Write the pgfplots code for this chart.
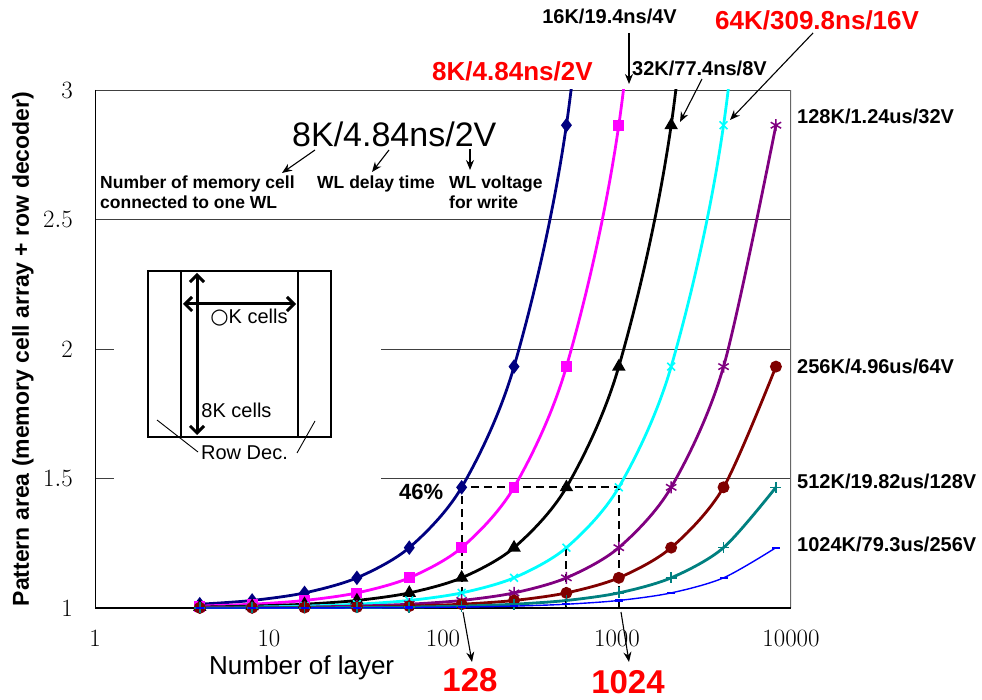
\documentclass[border=0pt]{standalone}
\usepackage[no-math]{fontspec}
\setmainfont{Liberation Sans}
\newfontfamily\djv{DejaVu Sans}
\usepackage{pgfplots}
\pgfplotsset{compat=1.18}
\usetikzlibrary{arrows.meta}
\newcommand\fs[1]{\fontsize{#1}{#1}\selectfont}
\definecolor{cnavy}{RGB}{0,0,128}
\definecolor{cmag}{RGB}{255,0,255}
\definecolor{ccyan}{RGB}{0,255,255}
\definecolor{cpurp}{RGB}{128,0,128}
\definecolor{cdred}{RGB}{128,0,0}
\definecolor{cteal}{RGB}{0,128,128}
\definecolor{cblue}{RGB}{0,0,255}
\begin{document}
\begin{tikzpicture}[x=1pt,y=1pt]
\begin{axis}[
  at={(95pt,91pt)}, anchor=south west, scale only axis,
  width=696pt, height=518pt,
  xmode=log, log basis x=10, xmin=1, xmax=10000, ymin=1, ymax=3,
  xtick={1,10,100,1000,10000}, xticklabels={$1$,$10$,$100$,$1000$,$10000$},
  ytick={1,1.5,2,2.5,3}, yticklabels={$1$,$1.5$,$2$,$2.5$,$3$},
  minor xtick={},
  ymajorgrids, grid style={black!75, line width=0.9pt},
  axis line style={draw=none}, major tick length=0pt, minor tick length=0pt,
  xticklabel style={font=\fs{23}, anchor=center, yshift=-30pt},
  yticklabel style={font=\fs{23}, anchor=east, inner sep=0pt, xshift=-22pt},
  clip=true,
  every axis plot/.append style={smooth, line width=2.8pt},
]
\draw[black!60, line width=1.5pt] (axis cs:10000,1) -- (axis cs:10000,3);
\draw[black, line width=1.5pt] (axis cs:1,3) -- (axis cs:1,1) -- (axis cs:10000,1);

\addplot[cnavy, mark=diamond*, mark size=5pt] coordinates {(4,1.0146)(8,1.0291)(16,1.0583)(32,1.1165)(64,1.233)(128,1.466)(256,1.932)(512,2.864)(1024,4.728)};
\addplot[cmag, mark=square*, mark size=4pt] coordinates {(4,1.0073)(8,1.0146)(16,1.0291)(32,1.0583)(64,1.1165)(128,1.233)(256,1.466)(512,1.932)(1024,2.864)(2048,4.728)};
\addplot[black, mark=triangle*, mark size=5pt] coordinates {(4,1.0036)(8,1.0073)(16,1.0146)(32,1.0291)(64,1.0583)(128,1.1165)(256,1.233)(512,1.466)(1024,1.932)(2048,2.864)(4096,4.728)};
\addplot[ccyan, mark=x, mark size=5.5pt, mark options={line width=1.6pt}] coordinates {(4,1.0018)(8,1.0036)(16,1.0073)(32,1.0146)(64,1.0291)(128,1.0583)(256,1.1165)(512,1.233)(1024,1.466)(2048,1.932)(4096,2.864)(8192,4.728)};
\addplot[cpurp, mark=asterisk, mark size=6pt, mark options={line width=1.5pt}] coordinates {(4,1.0009)(8,1.0018)(16,1.0036)(32,1.0073)(64,1.0146)(128,1.0291)(256,1.0583)(512,1.1165)(1024,1.233)(2048,1.466)(4096,1.932)(8192,2.864)};
\addplot[cdred, mark=*, mark size=4.5pt] coordinates {(4,1.0005)(8,1.0009)(16,1.0018)(32,1.0036)(64,1.0073)(128,1.0146)(256,1.0291)(512,1.0583)(1024,1.1165)(2048,1.233)(4096,1.466)(8192,1.932)};
\addplot[cteal, mark=+, mark size=5.5pt, mark options={line width=1.6pt}] coordinates {(4,1.0002)(8,1.0005)(16,1.0009)(32,1.0018)(64,1.0036)(128,1.0073)(256,1.0146)(512,1.0291)(1024,1.0583)(2048,1.1165)(4096,1.233)(8192,1.466)};
\addplot[cblue, line width=1.4pt, mark=-, mark size=4pt, mark options={line width=2.2pt}] coordinates {(4,1.0001)(8,1.0002)(16,1.0005)(32,1.0009)(64,1.0018)(128,1.0036)(256,1.0073)(512,1.0146)(1024,1.0291)(2048,1.0583)(4096,1.1165)(8192,1.233)};

\addplot[black, sharp plot, line width=2pt, dash pattern=on 8pt off 5pt] coordinates {(128,1) (128,1.466) (1024,1.466) (1024,1)};
\addplot[black, sharp plot, line width=2pt, dash pattern=on 8pt off 5pt] coordinates {(512,1) (512,1.233)};
\end{axis}

% axis titles
\node[font=\fs{26}, anchor=base west, inner sep=0pt] at (209,25) {Number of layer};
\node[font=\bfseries\fs{23}, rotate=90, anchor=center, inner sep=0pt] at (23,350) {Pattern area (memory cell array + row decoder)};

% series labels
\node[font=\bfseries\fs{20}, anchor=base east, inner sep=0pt] at (677,675) {16K/19.4ns/4V};
\node[font=\bfseries\fs{26}, text=red, anchor=base west, inner sep=0pt] at (432,618) {8K/4.84ns/2V};
\node[font=\bfseries\fs{20}, anchor=base west, inner sep=0pt] at (632,623) {32K/77.4ns/8V};
\node[font=\bfseries\fs{26}, text=red, anchor=base west, inner sep=0pt] at (715,669) {64K/309.8ns/16V};
\node[font=\bfseries\fs{20}, anchor=base west, inner sep=0pt] at (797,575) {128K/1.24us/32V};
\node[font=\bfseries\fs{20}, anchor=base west, inner sep=0pt] at (797,325) {256K/4.96us/64V};
\node[font=\bfseries\fs{20}, anchor=base west, inner sep=0pt] at (797,210) {512K/19.82us/128V};
\node[font=\bfseries\fs{20}, anchor=base west, inner sep=0pt] at (797,147) {1024K/79.3us/256V};
\draw[-{Stealth[length=10pt,width=8pt]}, line width=1.1pt] (629,666) -- (629,615);
\draw[-{Stealth[length=10pt,width=8pt]}, line width=1.1pt] (702,620) -- (680,577);
\draw[-{Stealth[length=10pt,width=8pt]}, line width=1.1pt] (813,666) -- (730,579);

% legend explanation
\node[font=\fs{34}, anchor=base west, inner sep=0pt] at (292,552) {8K/4.84ns/2V};
\node[font=\bfseries\fs{17.5}, anchor=base west, inner sep=0pt] at (100,510) {Number of memory cell};
\node[font=\bfseries\fs{17.5}, anchor=base west, inner sep=0pt] at (100,490) {connected to one WL};
\node[font=\bfseries\fs{17.5}, anchor=base west, inner sep=0pt] at (317,510) {WL delay time};
\node[font=\bfseries\fs{17.5}, anchor=base west, inner sep=0pt] at (449,510) {WL voltage};
\node[font=\bfseries\fs{17.5}, anchor=base west, inner sep=0pt] at (449,490) {for write};
\draw[-{Stealth[length=10pt,width=8pt]}, line width=1.1pt] (315,549) -- (282,526);
\draw[-{Stealth[length=10pt,width=8pt]}, line width=1.1pt] (389,549) -- (372,527);
\draw[-{Stealth[length=10pt,width=8pt]}, line width=1.1pt] (470,550) -- (470,529);

% 46% and layer callouts
\node[font=\bfseries\fs{22}, anchor=base west, inner sep=0pt] at (399,199) {46\%};
\node[font=\bfseries\fs{33}, text=red, anchor=base, inner sep=0pt] at (470,8) {128};
\node[font=\bfseries\fs{33}, text=red, anchor=base, inner sep=0pt] at (628,6) {1024};
\draw[-{Stealth[length=10pt,width=8pt]}, line width=1.1pt] (463,87) -- (472,37);
\draw[-{Stealth[length=10pt,width=8pt]}, line width=1.1pt] (621,87) -- (629,37);

% inset
\fill[white] (114,209) rectangle (381,459);
\draw[line width=2.5pt] (148,262) rectangle (331,428);
\draw[line width=2.5pt] (181,262) -- (181,428);
\draw[line width=2.5pt] (298,262) -- (298,428);
\draw[{Straight Barb[length=7pt,width=14pt]}-{Straight Barb[length=7pt,width=14pt]}, line width=3pt] (197,426) -- (197,264);
\draw[{Straight Barb[length=7pt,width=14pt]}-{Straight Barb[length=7pt,width=14pt]}, line width=3pt] (183,395) -- (296,395);
\node[font=\fs{20}, anchor=center, inner sep=0pt] at (249,381) {{\djv\fs{21}○}K cells};
\node[font=\fs{20}, anchor=center, inner sep=0pt] at (236.5,289) {8K cells};
\node[font=\fs{20}, anchor=center, inner sep=0pt] at (244.5,246) {Row Dec.};
\draw[line width=0.9pt] (157,279) -- (198,247);
\draw[line width=0.9pt] (315,278) -- (297,246);

\pgfresetboundingbox
\path[use as bounding box] (0,0) rectangle (982,699);
\end{tikzpicture}
\end{document}
